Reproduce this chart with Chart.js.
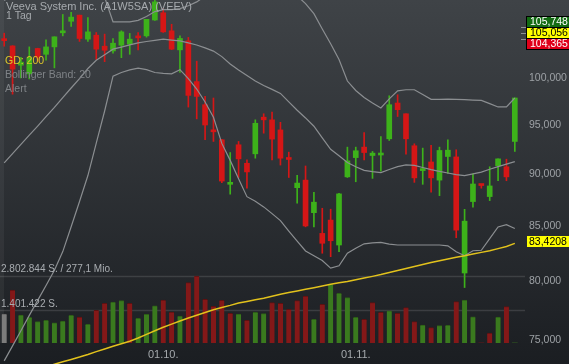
<!DOCTYPE html>
<html>
<head>
<meta charset="utf-8">
<script src="https://cdn.jsdelivr.net/npm/chart.js@4"></script>
<style>
  html, body { margin: 0; padding: 0; background: #1c1f23; }
  #wrap { width: 569px; height: 364px; position: relative; }
</style>
</head>
<body>
<div id="wrap"><canvas id="chart"></canvas></div>
<script>
// Trading days shown on the chart
const dates = ['04.09.','05.09.','06.09.','07.09.','10.09.','11.09.','12.09.','13.09.','14.09.','17.09.','18.09.','19.09.','20.09.','21.09.','24.09.','25.09.','26.09.','27.09.','28.09.',
  '01.10.','02.10.','03.10.','04.10.','05.10.','08.10.','09.10.','10.10.','11.10.','12.10.','15.10.','16.10.','17.10.','18.10.','19.10.','22.10.','23.10.','24.10.','25.10.','26.10.','29.10.','30.10.','31.10.',
  '01.11.','02.11.','05.11.','06.11.','07.11.','08.11.','09.11.','12.11.','13.11.','14.11.','15.11.','16.11.','19.11.','20.11.','21.11.','22.11.','23.11.','26.11.','27.11.','28.11.'];

const open = [104.34, 103.62, 101.45, 100.49, 103.33, 102.67, 103.51, 105.12, 106.46, 107.18,
  104.39, 104.85, 103.59, 103.05, 103.70, 103.82, 104.74, 104.77, 106.61, 107.46,
  105.35, 103.17, 104.20, 99.64, 97.14, 94.39, 93.47, 89.01, 92.96, 91.09,
  92.04, 95.82, 95.54, 94.49, 91.53, 88.68, 89.42, 86.28, 84.34, 85.58,
  83.27, 89.74, 91.66, 92.72, 91.87, 91.92, 93.57, 97.32, 96.18, 92.86,
  90.36, 91.22, 89.42, 91.77, 91.73, 80.75, 87.34, 89.01, 87.82, 90.85,
  90.74, 93.30];
const high = [105.08, 103.65, 102.33, 103.51, 103.36, 104.31, 104.66, 107.26, 107.52, 107.18,
  106.88, 105.16, 104.97, 104.47, 105.35, 105.05, 105.16, 106.69, 109.10, 107.91,
  106.11, 104.77, 104.59, 101.90, 98.03, 97.86, 93.52, 92.17, 93.30, 91.43,
  95.54, 96.18, 96.36, 95.28, 92.21, 89.90, 90.82, 88.24, 86.70, 86.61,
  88.14, 92.72, 92.72, 94.21, 92.28, 93.81, 98.10, 98.21, 96.18, 93.06,
  92.62, 92.89, 92.72, 93.47, 92.45, 86.60, 90.07, 89.01, 90.74, 91.53,
  91.50, 97.86];
const low = [103.59, 98.27, 100.03, 99.93, 101.87, 102.02, 101.15, 104.77, 105.85, 104.13,
  104.13, 102.10, 101.84, 102.79, 102.29, 102.67, 103.17, 104.62, 106.57, 105.16,
  103.19, 100.64, 96.89, 95.64, 93.47, 93.30, 89.16, 88.05, 89.68, 88.63,
  91.60, 94.15, 91.43, 90.91, 89.68, 87.18, 84.95, 84.94, 82.52, 82.21,
  82.66, 89.68, 89.26, 91.43, 89.59, 90.31, 93.40, 95.89, 92.01, 89.20,
  89.01, 88.24, 87.91, 90.07, 83.94, 79.47, 86.80, 88.63, 87.43, 89.36,
  89.36, 92.28];
const close = [104.22, 101.01, 101.79, 102.29, 102.35, 103.51, 104.66, 105.31, 106.95, 104.47,
  105.23, 103.25, 103.13, 103.93, 105.23, 104.39, 104.54, 106.69, 108.75, 105.23,
  103.25, 104.47, 98.14, 98.03, 95.00, 94.29, 89.33, 89.16, 91.53, 90.23,
  95.18, 95.54, 93.54, 91.60, 91.47, 89.13, 85.03, 87.28, 83.43, 83.66,
  88.08, 91.33, 92.35, 92.17, 92.11, 91.97, 97.14, 96.61, 93.57, 89.64,
  90.41, 89.64, 92.38, 92.41, 84.64, 85.48, 89.04, 88.89, 88.85, 91.53,
  89.74, 97.86];
const volume = [1213000, 2217000, 1171000, 1075000, 891000, 950000, 849000, 920000, 1159000, 1088000,
  782000, 1368000, 1661000, 1715000, 1770000, 1661000, 1033000, 1201000, 1560000, 1799000,
  1297000, 1129000, 2523000, 2802844, 1828000, 1535000, 1786000, 1242000, 1213000, 950000,
  1284000, 1226000, 1686000, 1661000, 1410000, 1770000, 1966000, 991000, 1619000, 2456000,
  2079000, 1895000, 1075000, 991000, 1686000, 1284000, 1351000, 1242000, 1477000, 891000,
  753000, 640000, 724000, 740000, 1728000, 1799000, 1100000, 0, 418000, 1088000,
  1519000, 0];

// Bollinger Band (20) and GD 200
const bbUpper = [108.92, 109.60, 110.21, 110.82, 111.42, 112.11, 112.71, 113.11, 112.92, 112.59,
  112.29, 110.88, 109.30, 106.40, 106.40, 106.40, 106.57, 107.03, 107.60, 107.83,
  107.83, 107.95, 108.29, 108.75, 109.44, 110.25, 111.72, 111.80, 112.28, 112.81,
  112.05, 111.59, 111.39, 111.17, 110.34, 109.47, 108.55, 107.36, 105.56, 103.87,
  102.09, 99.70, 98.67, 97.92, 97.33, 96.79, 97.76, 98.63, 98.75, 98.75,
  98.23, 97.71, 97.71, 97.74, 97.72, 97.69, 97.64, 97.60, 97.26, 96.90,
  96.90, 97.86];
const bbMid = [91.12, 92.07, 93.00, 93.95, 94.89, 95.88, 96.85, 97.89, 98.94, 99.97,
  101.08, 102.00, 102.62, 103.25, 103.49, 103.73, 103.96, 104.12, 104.26, 104.39,
  104.29, 104.20, 103.96, 103.72, 103.40, 103.03, 102.41, 101.59, 100.92, 100.31,
  99.71, 99.21, 98.79, 98.35, 97.45, 96.55, 95.74, 94.87, 93.66, 92.50,
  91.84, 91.17, 90.75, 90.39, 90.26, 90.16, 90.47, 90.76, 90.92, 90.88,
  90.67, 90.46, 90.29, 90.12, 89.96, 89.87, 90.03, 90.21, 90.49, 90.75,
  91.00, 91.25];
const bbLower = [73.32, 74.54, 75.79, 77.08, 78.36, 79.65, 80.99, 82.67, 84.96, 87.35,
  89.87, 93.12, 96.47, 100.23, 100.64, 100.92, 101.12, 100.95, 100.64, 100.54,
  100.49, 100.95, 99.96, 98.83, 97.43, 95.81, 93.10, 91.38, 89.56, 87.81,
  87.37, 86.83, 86.19, 85.53, 84.56, 83.63, 82.73, 82.30, 81.86, 81.18,
  81.39, 82.52, 82.98, 83.38, 83.47, 83.51, 83.35, 83.27, 83.27, 83.27,
  83.27, 83.27, 83.27, 83.20, 82.65, 82.30, 82.75, 82.79, 83.85, 84.94,
  85.15, 84.79];
const gd200 = [71.88, 72.07, 72.27, 72.46, 72.66, 72.86, 73.05, 73.25, 73.44, 73.63,
  73.84, 74.07, 74.29, 74.51, 74.72, 74.92, 75.19, 75.49, 75.79, 76.08,
  76.34, 76.60, 76.86, 77.09, 77.32, 77.55, 77.75, 77.93, 78.13, 78.27,
  78.41, 78.55, 78.71, 78.88, 79.03, 79.17, 79.32, 79.46, 79.61, 79.75,
  79.88, 80.00, 80.15, 80.30, 80.45, 80.61, 80.79, 80.97, 81.15, 81.33,
  81.51, 81.69, 81.85, 82.00, 82.15, 82.29, 82.45, 82.60, 82.75, 82.94,
  83.14, 83.42];

// Axis ticks and quote boxes
const priceTicks = [75, 80, 85, 90, 95, 100];
const quotes = [105.748, 105.056, 104.365];
const gdLast = 83.4208;
const turnoverMio = 277.1;

const GREEN = '#3db21a', RED = '#d51616';
const FONT = '"Liberation Sans", Arial, sans-serif';

const candleColors = close.map((c, i) => c >= open[i] ? GREEN : RED);
const volColors = volume.map((v, i) => {
  if (i === 0) return '#7c7c7c';
  return close[i] >= close[i - 1] ? '#3a7a1e' : '#841818';
});
const volTops = volume.map((v, i) => {
  if (i === 0) return '#666';
  return close[i] >= close[i - 1] ? '#2c5e16' : '#5e1010';
});

function deNum(n) {
  return String(n).replace(/\B(?=(\d{3})+(?!\d))/g, '.');
}
function comma(v, d) {
  return v.toFixed(d).replace('.', ',');
}

const volMax = Math.max(...volume);

// Background, guide lines and text overlays
const overlay = {
  id: 'overlay',
  beforeDraw(chart) {
    const { ctx, width, height } = chart;
    const g = ctx.createLinearGradient(0, 0, 0, height);
    g.addColorStop(0, '#3f4347');
    g.addColorStop(1, '#1b1e22');
    ctx.save();
    ctx.fillStyle = g;
    ctx.fillRect(0, 0, width, height);
    ctx.fillStyle = 'rgba(255,255,255,0.05)';
    ctx.fillRect(0, 0, 4, chart.chartArea.bottom);
    ctx.restore();
  },
  beforeDatasetsDraw(chart) {
    const { ctx } = chart;
    const vs = chart.scales.vol;
    ctx.save();
    ctx.strokeStyle = 'rgba(255,255,255,0.12)';
    ctx.lineWidth = 1.5;
    [volMax, volMax / 2].forEach(v => {
      const y = Math.round(vs.getPixelForValue(v)) + 0.5;
      ctx.beginPath();
      ctx.moveTo(0, y);
      ctx.lineTo(525, y);
      ctx.stroke();
    });
    ctx.restore();
  },
  afterDraw(chart) {
    const { ctx } = chart;
    const ys = chart.scales.y;
    const vs = chart.scales.vol;
    ctx.save();
    ctx.textBaseline = 'middle';
    ctx.textAlign = 'left';

    ctx.font = '11px ' + FONT;
    ctx.fillStyle = '#a6aaae';
    ctx.fillText('Veeva System Inc. (A1W5SA) (VEEV)', 6, 7);
    ctx.font = '10.5px ' + FONT;
    ctx.fillText('1 Tag', 6, 16.5);

    ctx.font = '10.5px ' + FONT;
    ctx.fillStyle = '#dcc62a';
    ctx.fillText('GD: 200', 5, 61);
    ctx.fillStyle = '#7f8387';
    ctx.fillText('Bollinger Band: 20', 5, 75);
    ctx.fillText('Alert', 5, 89);

    // volume scale labels
    ctx.font = '10px ' + FONT;
    ctx.fillStyle = '#a9adb1';
    ctx.fillText(deNum(volMax) + ' S. / ' + comma(turnoverMio, 1) + ' Mio.', 1, vs.getPixelForValue(volMax) - 6.5);
    ctx.fillText(deNum(Math.round(volMax / 2)) + ' S.', 1, vs.getPixelForValue(volMax / 2) - 5);

    // quote boxes on the price axis
    ctx.font = '10.5px ' + FONT;
    const boxX = 527, boxW = 42, boxH = 11;
    const midY = ys.getPixelForValue(quotes[1]) - 1;
    const styles = [['#136b13', '#fff'], ['#ffff00', '#000'], ['#e0001a', '#fff']];
    ctx.strokeStyle = '#8d9094';
    ctx.lineWidth = 1;
    quotes.forEach(q => {
      const y = Math.round(ys.getPixelForValue(q)) + 0.5;
      ctx.beginPath();
      ctx.moveTo(521, y);
      ctx.lineTo(526, y);
      ctx.stroke();
    });
    quotes.forEach((q, i) => {
      const top = Math.round(midY - boxH / 2 + (i - 1) * boxH);
      ctx.fillStyle = styles[i][0];
      ctx.fillRect(boxX, top, boxW, boxH);
      ctx.strokeStyle = '#000';
      ctx.strokeRect(boxX - 0.5, top + 0.5, boxW + 1, boxH);
      ctx.fillStyle = styles[i][1];
      ctx.fillText(comma(q, 3), boxX + 3, top + boxH / 2 + 0.5);
    });

    const gy = Math.round(ys.getPixelForValue(gdLast) - 1.5 - boxH / 2);
    ctx.fillStyle = '#ffff00';
    ctx.fillRect(boxX, gy, boxW, boxH);
    ctx.fillStyle = '#000';
    ctx.fillText(comma(gdLast, 4), boxX + 2, gy + boxH / 2 + 0.5);
    ctx.restore();
  }
};

const lineStyle = {
  type: 'line',
  yAxisID: 'y',
  pointRadius: 0,
  tension: 0,
  clip: false,
  order: 0
};

// no label padding around the plot, the frame goes edge to edge
function noPad(s) {
  s.paddingTop = 0;
  s.paddingBottom = 0;
  s.paddingLeft = 0;
  s.paddingRight = 0;
}

const ctx = document.getElementById('chart').getContext('2d');
new Chart(ctx, {
  data: {
    labels: dates,
    datasets: [
      { ...lineStyle, label: 'GD 200', data: gd200, borderColor: '#e2c21c', borderWidth: 1.5 },
      { ...lineStyle, label: 'BB oben', data: bbUpper, borderColor: '#8b8e91', borderWidth: 1.2 },
      { ...lineStyle, label: 'BB Mitte', data: bbMid, borderColor: '#8b8e91', borderWidth: 1.2 },
      { ...lineStyle, label: 'BB unten', data: bbLower, borderColor: '#8b8e91', borderWidth: 1.2 },
      {
        type: 'bar', label: 'Kerze', yAxisID: 'y', order: 1, grouped: false,
        data: open.map((o, i) => [o, close[i]]),
        backgroundColor: candleColors, barThickness: 5, minBarLength: 2
      },
      {
        type: 'bar', label: 'Docht', yAxisID: 'y', order: 2, grouped: false,
        data: low.map((l, i) => [l, high[i]]),
        backgroundColor: candleColors, barThickness: 1
      },
      {
        type: 'bar', label: 'Volumen', yAxisID: 'vol', order: 3, grouped: false,
        data: volume, backgroundColor: volColors,
        borderColor: volTops, borderWidth: { top: 1, left: 0, right: 0, bottom: 0 },
        barThickness: 5
      }
    ]
  },
  options: {
    responsive: true,
    maintainAspectRatio: false,
    devicePixelRatio: 1,
    animation: false,
    layout: { padding: 0 },
    plugins: { legend: { display: false }, tooltip: { enabled: false } },
    scales: {
      x: {
        type: 'category',
        grid: { display: false, drawTicks: false },
        border: { display: false },
        ticks: {
          autoSkip: false, maxRotation: 0, minRotation: 0, padding: 5,
          color: '#a5a9ad', font: { family: FONT, size: 11 },
          callback: (v, i) => dates[i].startsWith('01.') ? dates[i] : ''
        },
        afterFit: s => { s.height = 21; noPad(s); }
      },
      y: {
        type: 'logarithmic',
        position: 'right',
        min: 74.775,
        max: 108.978,
        bounds: 'data',
        grid: { display: false, drawTicks: false },
        border: { display: false },
        ticks: {
          padding: 10, color: '#9da1a5', font: { family: FONT, size: 10.5 },
          autoSkip: false,
          callback: v => comma(v, 3)
        },
        afterBuildTicks: s => { s.ticks = priceTicks.map(v => ({ value: v })); },
        afterFit: s => { s.width = 50; noPad(s); }
      },
      vol: {
        type: 'linear',
        display: false,
        min: 0,
        max: 14350000
      }
    }
  },
  plugins: [overlay]
});
</script>
</body>
</html>
